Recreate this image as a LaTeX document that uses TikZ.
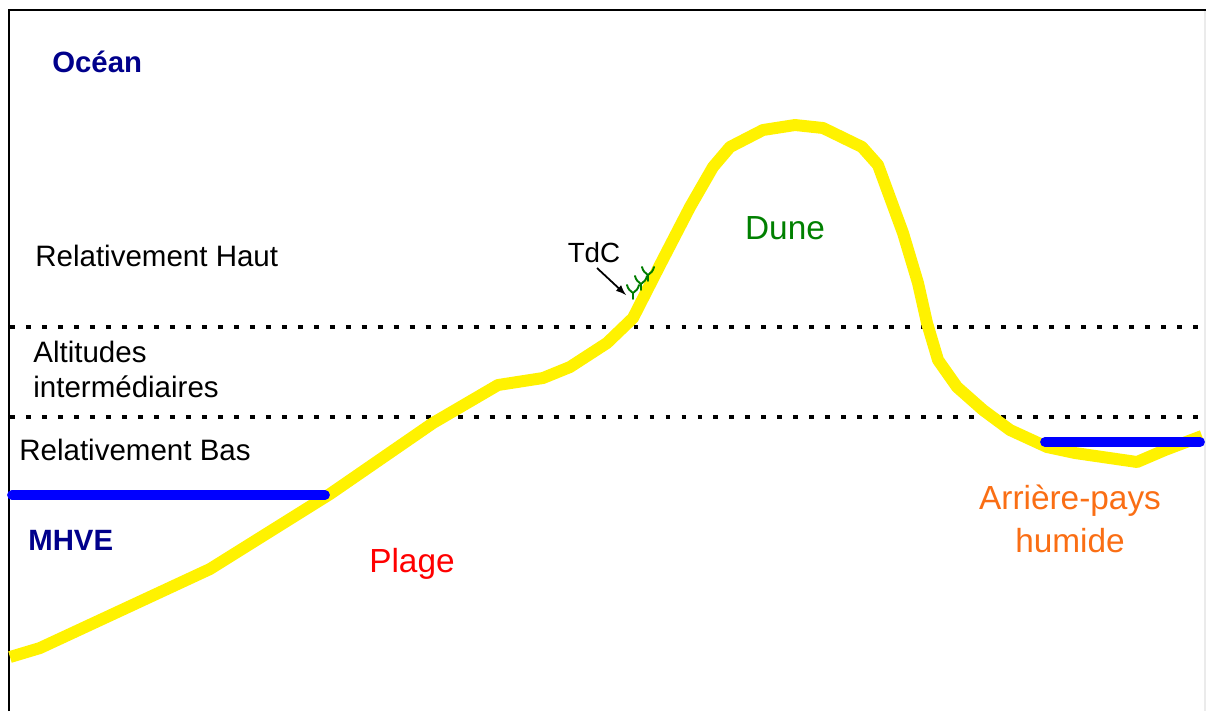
\documentclass[tikz,border=0pt]{standalone}
\usepackage{fontspec}
\setmainfont{Liberation Sans}
\definecolor{navyblue}{RGB}{0,0,139}
\definecolor{dunegreen}{RGB}{0,128,0}
\definecolor{grassgreen}{RGB}{0,125,0}
\definecolor{wetorange}{RGB}{250,110,20}
\tikzset{
  label/.style={font=\fontsize{16.8}{20}\selectfont, inner sep=0pt, anchor=base west},
  title/.style={label, font=\fontsize{16.7}{20}\selectfont\bfseries, text=navyblue},
  zone/.style={font=\fontsize{19}{23}\selectfont, inner sep=0pt, anchor=base, align=center},
  level/.style={line width=2.8pt, dash pattern=on 2.8pt off 6.3pt},
  water/.style={blue, line width=5.6pt, line cap=round},
  tuft/.pic={
    \draw[grassgreen, line width=1.1pt, line cap=round]
      (0,5) -- (0,-1)
      (0,-1) .. controls (-3,-3) and (-5,-5) .. (-6,-9)
      (0,-1) .. controls (3,-3) and (5,-5) .. (6,-9);
  }
}
\begin{document}
\begin{tikzpicture}[x=0.02cm, y=-0.02cm]
  \useasboundingbox (0,0) rectangle (1206,711);
  % frame
  \draw[line width=1.7pt] (9,711) -- (9,10) -- (1206,10);
  \draw[black!8, line width=0.8pt] (1205,11) -- (1205,711);
  % altitude levels
  \draw[level] (10,327) -- (1200,327);
  \draw[level] (10,417) -- (1200,417);
  % profile
  \draw[yellow, line width=6.8pt, line join=round]
    (10,657) -- (40,648) -- (210,569) -- (330,494) -- (433,423) -- (498,385)
    -- (543,378) -- (570,367) -- (607,343) -- (633,318) -- (660,265)
    -- (690,207) -- (713,167) -- (730,147) -- (763,130) -- (795,125)
    -- (823,128) -- (862,147) -- (878,165) -- (903,233) -- (918,283)
    -- (927,323) -- (938,360) -- (957,387) -- (983,410) -- (1010,430)
    -- (1047,447) -- (1075,453) -- (1137,462) -- (1165,450) -- (1202,436);
  % mean high water
  \draw[water] (12,495) -- (325,495);
  \draw[water] (1045,442) -- (1200,442);
  % grass at the dune toe
  \pic at (633,294) {tuft};
  \pic at (641,285) {tuft};
  \pic at (648,276) {tuft};
  \coordinate (grass) at (626,295);
  % labels
  \node[title] (ocean) at (52,72) {Océan};
  \node[label] (haut) at (35,266) {Relativement Haut};
  \node[label] (alt1) at (33,362) {Altitudes};
  \node[label] (alt2) at (33,397) {intermédiaires};
  \node[label] (bas) at (19,460) {Relativement Bas};
  \node[title] (mhve) at (28,550) {MHVE};
  \node[zone, text=red] (plage) at (412,572) {Plage};
  \node[zone, text=dunegreen] (dune) at (785,239) {Dune};
  \node[zone, text=wetorange] (arriere) at (1070,552) {Arrière-pays\\[1.4pt]humide};
  \node[label, anchor=base, font=\fontsize{15.8}{19}\selectfont] (tdc) at (594,262) {TdC};
  \draw[-latex, line width=1pt] (597,268) -- (grass);
\end{tikzpicture}
\end{document}
